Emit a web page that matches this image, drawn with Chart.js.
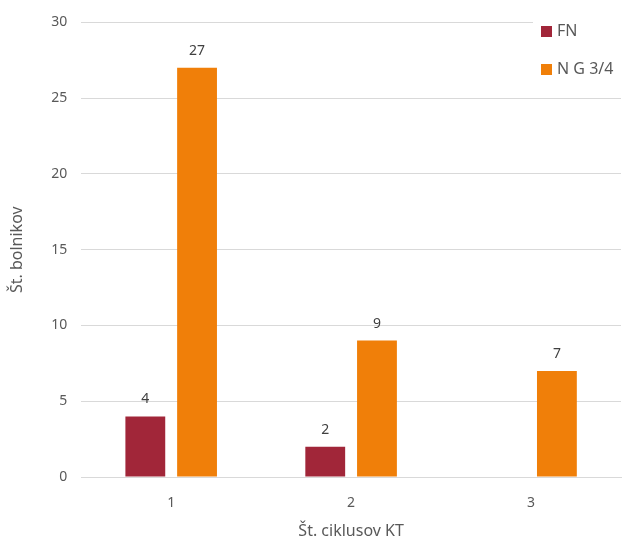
<!DOCTYPE html>
<html>
<head>
<meta charset="utf-8">
<script src="https://cdn.jsdelivr.net/npm/chart.js@4.4.1/dist/chart.umd.min.js"></script>
<style>
  html, body { margin: 0; padding: 0; background: #fff; }
  #wrap { width: 628px; height: 541px; }
</style>
</head>
<body>
<div id="wrap"><canvas id="c"></canvas></div>
<script>
const categories = ["1", "2", "3"];
const fnValues = [4, 2, null];
const ngValues = [27, 9, 7];
const seriesNames = ["FN", "N G 3/4"];

const textColor = '#595959';
const font = 'Noto Sans';

// value above each bar
const barLabels = {
  id: 'barLabels',
  afterDatasetsDraw(chart) {
    const ctx = chart.ctx;
    ctx.save();
    ctx.font = `14px "${font}"`;
    ctx.fillStyle = '#404040';
    ctx.textAlign = 'center';
    ctx.textBaseline = 'bottom';
    chart.data.datasets.forEach((ds, i) => {
      chart.getDatasetMeta(i).data.forEach((bar, j) => {
        if (ds.data[j] == null) return;
        ctx.fillText(ds.data[j], bar.x, bar.y - 10);
      });
    });
    ctx.restore();
  }
};

// legend stacked in the top right corner
const cornerLegend = {
  id: 'cornerLegend',
  afterDraw(chart) {
    const ctx = chart.ctx;
    ctx.save();
    ctx.fillStyle = '#fff';
    ctx.fillRect(533, 10, 95, 75);
    ctx.font = `16px "${font}"`;
    ctx.textBaseline = 'middle';
    chart.data.datasets.forEach((ds, i) => {
      const y = 31 + i * 38;
      ctx.fillStyle = ds.backgroundColor;
      ctx.fillRect(541, y - 5, 11, 11);
      ctx.fillStyle = textColor;
      ctx.fillText(ds.label, 557, y);
    });
    ctx.restore();
  }
};

new Chart(document.getElementById('c'), {
  type: 'bar',
  data: {
    labels: categories,
    datasets: [
      { label: seriesNames[0], data: fnValues, backgroundColor: '#A12639' },
      { label: seriesNames[1], data: ngValues, backgroundColor: '#F07F09' }
    ]
  },
  options: {
    responsive: true,
    maintainAspectRatio: false,
    animation: false,
    layout: { padding: { top: 14, right: 7, bottom: 0, left: 4 } },
    datasets: { bar: { categoryPercentage: 0.575, barPercentage: 0.77 } },
    plugins: {
      legend: { display: false },
      tooltip: { enabled: false }
    },
    scales: {
      x: {
        grid: { display: false },
        border: { color: '#d9d9d9', width: 1 },
        ticks: { color: textColor, font: { family: font, size: 14 }, padding: 10 },
        title: { display: true, text: 'Št. ciklusov KT', color: textColor, font: { family: font, size: 16 }, padding: { top: 0, bottom: 0 } }
      },
      y: {
        min: 0, max: 30,
        ticks: { stepSize: 5, color: textColor, font: { family: font, size: 14 }, padding: 14 },
        grid: { color: '#d9d9d9', drawTicks: false },
        border: { display: false },
        title: { display: true, text: 'Št. bolnikov', color: textColor, font: { family: font, size: 16 }, padding: { bottom: 10 } }
      }
    }
  },
  plugins: [barLabels, cornerLegend]
});
</script>
</body>
</html>
